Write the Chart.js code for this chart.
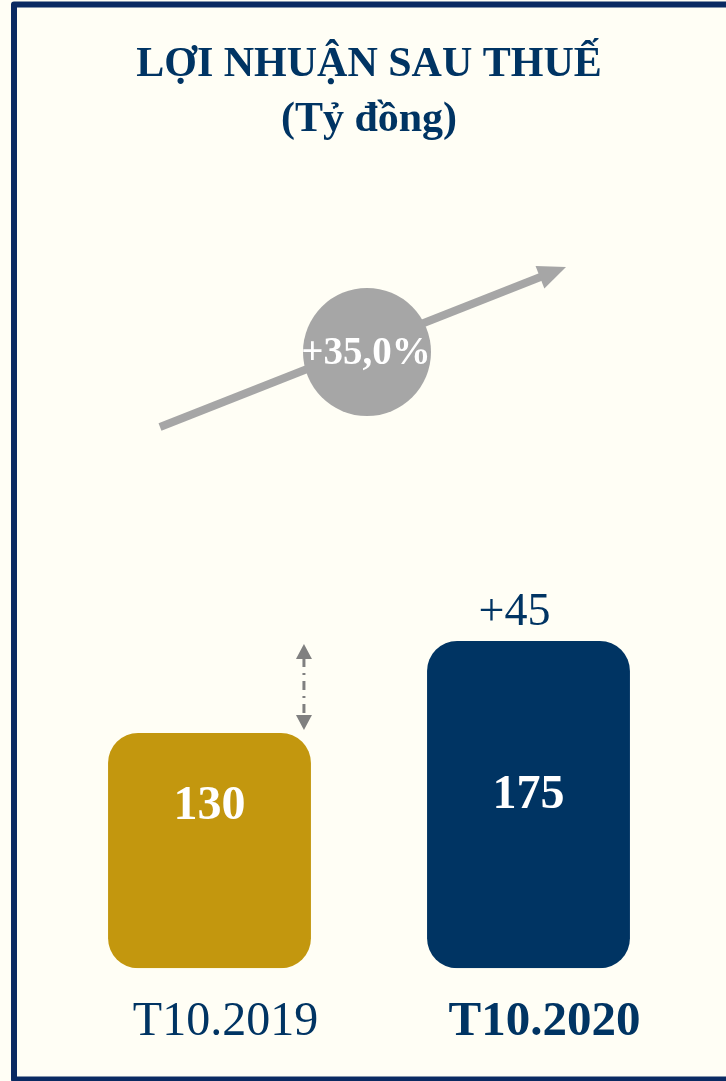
<!DOCTYPE html>
<html lang="vi">
<head>
  <meta charset="UTF-8">
  <title>Lợi nhuận sau thuế</title>
  <script src="https://cdn.jsdelivr.net/npm/chart.js"></script>
  <style>
    html, body { margin: 0; padding: 0; background: #FFFEF5; }
    #bieuDo { display: block; }
  </style>
</head>
<body>
  <canvas id="bieuDo" width="726" height="1081"></canvas>
<script>
  // dados
  const ky = ['T10.2019', 'T10.2020'];
  const loiNhuan = [130, 175];
  const mauCot = ['#C3970E', '#003463'];
  const tieuDe = ['LỢI NHUẬN SAU THUẾ', '(Tỷ đồng)'];
  const nhanChenhLech = '+45';
  const nhanTangTruong = '+35,0%';

  const serif = '"Liberation Serif", "DejaVu Serif", serif';
  const xanh = '#003463';

  // vien + mui ten lon + hinh tron + nhan tren cot
  const trangTri = {
    id: 'trangTri',
    beforeDraw(chart) {
      const c = chart.ctx;
      c.save();
      c.fillStyle = '#FFFEF5';
      c.fillRect(0, 0, chart.width, chart.height);
      c.strokeStyle = '#0A2A62';
      c.lineWidth = 6;
      c.lineJoin = 'round';
      c.strokeRect(14, 4.5, 800, 1075);
      c.restore();
    },
    afterDatasetsDraw(chart) {
      const c = chart.ctx;
      const bars = chart.getDatasetMeta(0).data;
      const y = chart.scales.y;
      c.save();

      // mui ten tang truong
      const x0 = 160, y0 = 427, x1 = 566, y1 = 267;
      const goc = Math.atan2(y1 - y0, x1 - x0);
      c.strokeStyle = '#A6A6A6';
      c.fillStyle = '#A6A6A6';
      c.lineWidth = 8;
      c.beginPath();
      c.moveTo(x0, y0);
      c.lineTo(x1 - 22 * Math.cos(goc), y1 - 22 * Math.sin(goc));
      c.stroke();
      c.beginPath();
      c.moveTo(x1, y1);
      c.lineTo(x1 - 28 * Math.cos(goc) + 12 * Math.sin(goc), y1 - 28 * Math.sin(goc) - 12 * Math.cos(goc));
      c.lineTo(x1 - 28 * Math.cos(goc) - 12 * Math.sin(goc), y1 - 28 * Math.sin(goc) + 12 * Math.cos(goc));
      c.closePath();
      c.fill();

      c.beginPath();
      c.arc(367, 352, 64, 0, Math.PI * 2);
      c.fill();

      c.fillStyle = '#FFFFFF';
      c.textAlign = 'center';
      c.textBaseline = 'middle';
      c.font = 'bold 39px ' + serif;
      c.fillText(nhanTangTruong, 366, 354);

      // gia tri trong cot
      c.font = 'bold 48px ' + serif;
      const lech = [162, 173];
      bars.forEach((b, i) => {
        c.fillText(String(loiNhuan[i]), b.x, b.base - lech[i]);
      });

      // +45 tren cot T10.2020
      c.fillStyle = xanh;
      c.font = '46px ' + serif;
      c.fillText(nhanChenhLech, bars[1].x - 14, bars[1].y - 28);

      // mui ten nét đứt
      const xm = bars[0].x + bars[0].width / 2 - 7;
      const yt = y.getPixelForValue(loiNhuan[1]) + 3;
      const yb = y.getPixelForValue(loiNhuan[0]) - 3;
      c.strokeStyle = '#808080';
      c.fillStyle = '#808080';
      c.lineWidth = 3;
      c.setLineDash([9, 6, 2, 6]);
      c.beginPath();
      c.moveTo(xm, yt + 14);
      c.lineTo(xm, yb - 14);
      c.stroke();
      c.setLineDash([]);
      c.beginPath();
      c.moveTo(xm, yt); c.lineTo(xm - 8, yt + 15); c.lineTo(xm + 8, yt + 15);
      c.closePath(); c.fill();
      c.beginPath();
      c.moveTo(xm, yb); c.lineTo(xm - 8, yb - 15); c.lineTo(xm + 8, yb - 15);
      c.closePath(); c.fill();

      c.restore();
    }
  };

  new Chart(document.getElementById('bieuDo'), {
    type: 'bar',
    data: {
      labels: ky,
      datasets: [{
        data: loiNhuan,
        base: 15,
        backgroundColor: mauCot,
        borderRadius: 30,
        borderSkipped: false,
        categoryPercentage: 1,
        barPercentage: 0.636
      }]
    },
    options: {
      responsive: false,
      animation: false,
      devicePixelRatio: 1,
      layout: { padding: { top: 0, left: 50, right: 38, bottom: 4 } },
      plugins: {
        legend: { display: false },
        tooltip: { enabled: false },
        title: {
          display: true,
          text: tieuDe,
          color: xanh,
          font: { family: serif, size: 42, weight: 'bold', lineHeight: 1.3 },
          padding: { top: 38, bottom: 40 }
        }
      },
      scales: {
        x: {
          grid: { display: false, drawTicks: false },
          border: { display: false },
          ticks: {
            color: xanh,
            padding: 25,
            labelOffset: 16,
            autoSkip: false,
            maxRotation: 0,
            font: (ctx) => ({
              family: serif,
              size: ctx.index === 1 ? 49 : 48,
              weight: ctx.index === 1 ? 'bold' : 'normal',
              lineHeight: 1.2
            })
          }
        },
        y: {
          display: false,
          min: 15,
          max: 397
        }
      }
    },
    plugins: [trangTri]
  });
</script>
</body>
</html>
